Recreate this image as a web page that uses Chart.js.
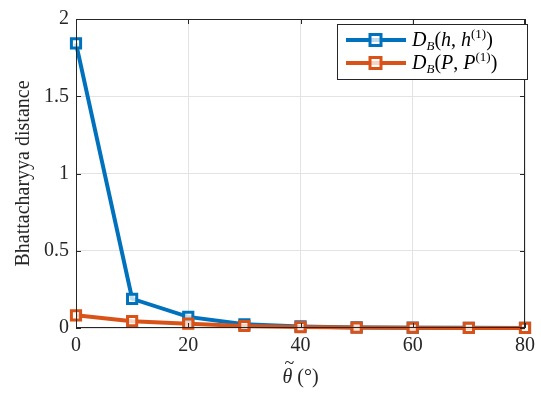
<!DOCTYPE html>
<html>
<head>
<meta charset="utf-8">
<script src="https://cdn.jsdelivr.net/npm/chart.js@4"></script>
<style>
  html, body { margin: 0; padding: 0; background: #fff; }
  #wrap { width: 541px; height: 394px; position: relative; }
</style>
</head>
<body>
<div id="wrap"><canvas id="chart"></canvas></div>
<script>
'use strict';

const angles = [0, 10, 20, 30, 40, 50, 60, 70, 80];
const distH = [1.842, 0.189, 0.072, 0.024, 0.010, 0.004, 0.002, 0.001, 0.0005];
const distP = [0.082, 0.044, 0.028, 0.013, 0.006, 0.003, 0.0015, 0.0008, 0.0004];
const xTicks = [0, 20, 40, 60, 80];
const yTicks = [0, 0.5, 1, 1.5, 2];

const BLUE = '#0072BD';
const ORANGE = '#D95319';
const FONT = "'Liberation Serif', serif";
Chart.defaults.font.family = FONT;
Chart.defaults.color = '#262626';

// matlab-style box, inward ticks, x title and legend
const matlabBox = {
  id: 'matlabBox',
  afterDraw(chart) {
    const { ctx, chartArea: a, scales: { x, y } } = chart;
    ctx.save();
    ctx.strokeStyle = '#262626';
    ctx.lineWidth = 1;
    ctx.strokeRect(a.left + 0.5, a.top + 0.5, a.right - a.left - 1, a.bottom - a.top - 1);
    ctx.beginPath();
    yTicks.forEach(v => {
      const py = Math.round(y.getPixelForValue(v)) + 0.5;
      ctx.moveTo(a.left, py); ctx.lineTo(a.left + 5, py);
      ctx.moveTo(a.right, py); ctx.lineTo(a.right - 5, py);
    });
    xTicks.forEach(v => {
      const px = Math.round(x.getPixelForValue(v)) + 0.5;
      ctx.moveTo(px, a.bottom); ctx.lineTo(px, a.bottom - 5);
      ctx.moveTo(px, a.top); ctx.lineTo(px, a.top + 5);
    });
    ctx.stroke();

    // x title: theta tilde (degrees)
    ctx.fillStyle = '#262626';
    ctx.textBaseline = 'alphabetic';
    ctx.font = 'italic 20px ' + FONT;
    const tw = ctx.measureText('θ').width;
    ctx.font = '20px ' + FONT;
    const rest = ' (°)';
    const rw = ctx.measureText(rest).width;
    const tx = (a.left + a.right) / 2 - (tw + rw) / 2;
    ctx.font = 'italic 20px ' + FONT;
    ctx.fillText('θ', tx, 383);
    ctx.font = '18px ' + FONT;
    ctx.textAlign = 'center';
    ctx.fillText('~', tx + tw / 2 + 2, 369);
    ctx.textAlign = 'left';
    ctx.font = '20px ' + FONT;
    ctx.fillText(rest, tx + tw, 383);

    // legend
    const lx = 337, ly = 24, lw = 190, lh = 55;
    ctx.lineWidth = 1;
    ctx.fillStyle = '#fff';
    ctx.fillRect(lx, ly, lw, lh);
    ctx.strokeStyle = '#262626';
    ctx.strokeRect(lx + 0.5, ly + 0.5, lw, lh);
    const items = [
      { color: BLUE, a: 'h', b: 'h' },
      { color: ORANGE, a: 'P', b: 'P' }
    ];
    items.forEach((it, i) => {
      const cy = ly + 16 + i * 23;
      ctx.strokeStyle = it.color;
      ctx.lineWidth = 4;
      ctx.beginPath(); ctx.moveTo(lx + 9, cy); ctx.lineTo(lx + 69, cy); ctx.stroke();
      ctx.lineWidth = 3;
      ctx.fillStyle = 'rgba(255,255,255,0.75)';
      ctx.fillRect(lx + 33, cy - 5.5, 11, 11);
      ctx.strokeRect(lx + 33, cy - 5.5, 11, 11);
      ctx.fillStyle = '#000';
      let px = lx + 75;
      const by = cy + 6;
      const put = (s, f, dy = 0) => { ctx.font = f; ctx.fillText(s, px, by + dy); px += ctx.measureText(s).width; };
      const itL = 'italic 20px ' + FONT, rmL = '20px ' + FONT, itS = 'italic 13px ' + FONT, rmS = '13px ' + FONT;
      put('D', itL);
      put('B', itS, 4);
      put('(', rmL);
      put(it.a, itL);
      put(', ', rmL);
      put(it.b, itL);
      put('(1)', rmS, -8);
      put(')', rmL);
    });
    ctx.restore();
  }
};

const pointSet = color => ({
  borderColor: color, backgroundColor: color,
  pointStyle: 'rect', pointRadius: 6.5, pointBorderWidth: 3,
  pointBackgroundColor: 'rgba(255,255,255,0.75)', pointBorderColor: color,
  borderWidth: 4, tension: 0, fill: false, clip: false
});

new Chart(document.getElementById('chart'), {
  type: 'line',
  data: {
    labels: angles,
    datasets: [
      { label: 'D_B(h, h^(1))', order: 2, data: angles.map((a, i) => ({ x: a, y: distH[i] })), ...pointSet(BLUE) },
      { label: 'D_B(P, P^(1))', order: 1, data: angles.map((a, i) => ({ x: a, y: distP[i] })), ...pointSet(ORANGE) }
    ]
  },
  options: {
    responsive: true, maintainAspectRatio: false, animation: false,
    layout: { padding: { top: 11, right: 11, left: 0, bottom: 0 } },
    plugins: { legend: { display: false }, tooltip: { enabled: false } },
    scales: {
      x: {
        type: 'linear', min: 0, max: 80,
        afterBuildTicks: s => { s.ticks = xTicks.map(v => ({ value: v })); },
        afterFit: s => { s.height = 66; },
        grid: { color: '#e3e3e3', drawTicks: false },
        border: { display: false },
        ticks: { padding: 6, callback: v => String(v), font: { size: 20 } }
      },
      y: {
        min: 0, max: 2,
        afterBuildTicks: s => { s.ticks = yTicks.map(v => ({ value: v })); },
        afterFit: s => { s.width = 76; },
        grid: { color: '#e3e3e3', drawTicks: false },
        border: { display: false },
        ticks: { padding: 7, callback: v => String(v), font: { size: 20 } },
        title: { display: true, text: 'Bhattacharyya distance', padding: { top: 12, bottom: 2 }, font: { size: 20 } }
      }
    }
  },
  plugins: [matlabBox]
});
</script>
</body>
</html>
